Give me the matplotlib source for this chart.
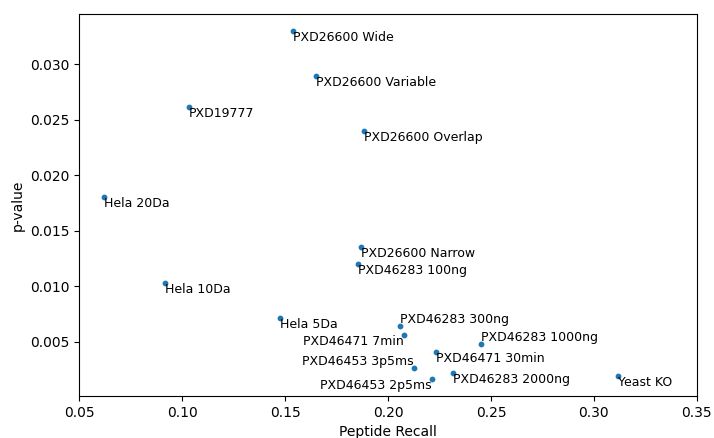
import matplotlib
matplotlib.use('Agg')
import matplotlib.pyplot as plt

names = ['PXD26600 Wide', 'PXD26600 Variable', 'PXD19777', 'PXD26600 Overlap',
         'Hela 20Da', 'PXD26600 Narrow', 'PXD46283 100ng', 'Hela 10Da',
         'Hela 5Da', 'PXD46283 300ng', 'PXD46471 7min', 'PXD46283 1000ng',
         'PXD46471 30min', 'PXD46453 3p5ms', 'PXD46283 2000ng',
         'PXD46453 2p5ms', 'Yeast KO']
recall = [0.1539, 0.1650, 0.1034, 0.1883, 0.0621, 0.1869, 0.1854, 0.0917,
          0.1476, 0.2058, 0.2078, 0.2451, 0.2233, 0.2126, 0.2316, 0.2214, 0.3117]
pvalue = [0.03296, 0.02892, 0.02615, 0.02400, 0.01800, 0.01351, 0.01200, 0.01029,
          0.00715, 0.00643, 0.00563, 0.00482, 0.00410, 0.00267, 0.00222, 0.00168, 0.00195]
# label alignment per point
ha = ['left'] * 9 + ['left', 'right', 'left', 'left', 'right', 'left', 'right', 'left']
va = ['top'] * 9 + ['bottom', 'top', 'bottom', 'top', 'bottom', 'top', 'top', 'top']

fig = plt.figure(figsize=(7.14, 4.38), dpi=100)
ax = fig.add_axes([0.111, 0.096, 0.865, 0.872])
ax.scatter(recall, pvalue, s=10, color='#1f77b4')
for n, x, y, h, v in zip(names, recall, pvalue, ha, va):
    ax.text(x, y, n, ha=h, va=v, fontsize=9)
ax.set_xlim(0.05, 0.35)
ax.set_xlabel('Peptide Recall')
ax.set_ylabel('p-value')
fig.savefig('out.png', dpi=100)
